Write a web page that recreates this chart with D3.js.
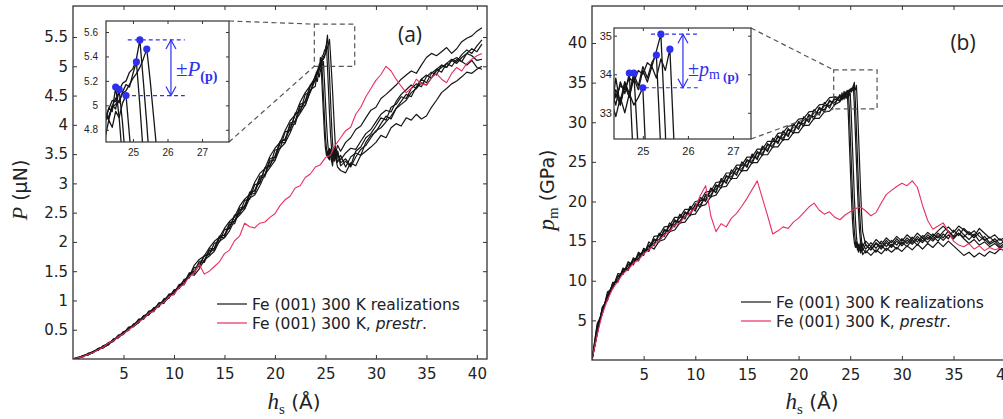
<!DOCTYPE html>
<html>
<head>
<meta charset="utf-8">
<script src="https://cdn.jsdelivr.net/npm/d3@7"></script>
<style>
  body { margin: 0; background: #fff; }
  svg { display: block; background: #fff; }
</style>
</head>
<body>
<svg id="fig" width="1003" height="419"></svg>
<script>
// Indentation depth grid (Å) shared by all MD realizations; finer around the pop-in.
const hs = [0,0.5,1,1.5,2,2.5,3,3.5,4,4.5,5,5.5,
  6,6.5,7,7.5,8,8.5,9,9.5,10,10.5,11,11.5,
  12,12.5,13,13.5,14,14.5,15,15.5,16,16.5,17,17.5,
  18,18.5,19,19.5,20,20.5,21,21.5,22,22.5,23,23.5,
  24,24.1,24.2,24.3,24.4,24.5,24.6,24.7,24.8,24.9,25,
  25.1,25.2,25.3,25.4,25.5,25.6,25.7,25.8,25.9,26,26.1,26.2,
  26.5,27,27.5,28,28.5,29,29.5,30,30.5,31,31.5,32,32.5,
  33,33.5,34,34.5,35,35.5,36,36.5,37,37.5,38,38.5,39,39.5,40,40.5];

// Depth grid of the prestrained run.
const hsPre = [0,0.5,1,1.5,2,2.5,3,3.5,4,4.5,5,5.5,
  6,6.5,7,7.5,8,8.5,9,9.5,10,10.5,11,11.5,
  12,12.5,13,13.5,14,14.5,15,15.5,16,16.5,17,17.5,
  18,18.5,19,19.5,20,20.5,21,21.5,22,22.5,23,23.5,
  24,24.5,25,25.5,26,26.5,27,27.5,28,28.5,29,29.5,
  30,30.5,31,31.5,32,32.5,33,33.5,34,34.5,35,35.5,
  36,36.5,37,37.5,38,38.5,39,39.5,40,40.5];

// (a) load P (µN), six realizations
const loadRun1 = [0,.03,.04,.10,.11,.18,.20,.28,.31,.41,.43,.54,
  .56,.68,.69,.82,.83,.96,.97,1.11,1.12,1.27,1.29,1.47,
  1.48,1.67,1.68,1.88,1.89,2.10,2.11,2.33,2.35,2.58,2.60,2.85,
  2.87,3.12,3.15,3.42,3.45,3.72,3.74,4.03,4.06,4.35,4.39,4.68,
  4.76,4.90,4.86,4.98,4.95,5.15,4.90,4.55,4.20,3.85,3.60,
  3.48,3.55,3.42,3.60,3.50,3.38,3.52,3.45,3.62,3.48,3.40,3.55,
  3.35,3.42,3.30,3.55,3.62,3.78,3.85,3.98,4.12,4.08,4.30,4.35,4.48,
  4.45,4.62,4.70,4.65,4.82,4.90,4.85,5.02,4.98,5.10,5.15,5.08,5.22,5.30,5.25,5.38];
const loadRun2 = [0,.01,.06,.07,.13,.15,.23,.24,.34,.36,.47,.49,
  .60,.62,.74,.75,.88,.89,1.03,1.04,1.18,1.20,1.36,1.38,
  1.56,1.58,1.77,1.78,1.98,2.00,2.21,2.23,2.46,2.48,2.71,2.73,
  2.98,3.00,3.27,3.29,3.57,3.59,3.88,3.90,4.20,4.22,4.52,4.56,
  4.85,4.80,4.92,4.88,5.00,4.97,5.13,4.85,4.50,4.15,3.80,
  3.60,3.45,3.52,3.40,3.58,3.46,3.35,3.50,3.44,3.58,3.42,3.36,
  3.48,3.28,3.45,3.52,3.48,3.70,3.82,3.88,4.02,4.15,4.10,4.28,4.40,
  4.52,4.48,4.65,4.78,4.72,4.88,4.95,4.90,5.05,5.12,5.08,5.20,5.28,5.22,5.35,5.45];
const loadRun3 = [0,.02,.04,.09,.11,.17,.19,.27,.30,.39,.42,.52,
  .55,.66,.68,.80,.81,.94,.95,1.09,1.10,1.25,1.27,1.44,
  1.46,1.64,1.65,1.85,1.86,2.07,2.08,2.30,2.31,2.55,2.57,2.81,
  2.83,3.09,3.11,3.38,3.40,3.69,3.70,4.00,4.01,4.31,4.33,4.60,
  4.66,4.80,4.74,4.88,4.82,4.95,4.90,5.02,5.08,4.75,4.40,
  4.05,3.75,3.55,3.45,3.58,3.40,3.30,3.46,3.38,3.52,3.36,3.28,
  3.22,3.18,3.35,3.30,3.48,3.55,3.62,3.70,3.82,3.78,3.95,4.02,3.98,
  4.12,4.08,4.18,4.10,4.15,4.30,4.42,4.55,4.62,4.70,4.75,4.82,4.90,4.88,4.95,5.00];
const loadRun4 = [0,.02,.06,.07,.12,.18,.19,.25,.34,.37,.44,.53,
  .57,.63,.74,.76,.84,.95,.97,1.05,1.17,1.21,1.30,1.45,
  1.50,1.60,1.76,1.80,1.90,2.08,2.12,2.25,2.44,2.50,2.62,2.82,
  2.88,3.03,3.25,3.31,3.46,3.70,3.76,3.93,4.17,4.24,4.41,4.66,
  4.76,4.86,4.93,4.90,4.99,5.06,5.02,5.11,5.17,5.15,5.26,
  5.355,5.00,4.60,4.20,3.85,3.60,3.48,3.58,3.42,3.55,3.38,3.50,
  3.40,3.52,3.60,3.58,3.72,3.85,3.92,4.05,4.18,4.25,4.22,4.40,4.52,
  4.60,4.68,4.62,4.78,4.85,4.80,4.95,5.02,4.98,5.10,5.05,5.15,5.22,5.18,5.10,5.12];
const loadRun5 = [0,.03,.04,.09,.13,.15,.22,.27,.30,.39,.46,.49,
  .59,.66,.69,.79,.87,.90,1.01,1.09,1.12,1.25,1.34,1.40,
  1.60,1.70,1.76,1.90,2.01,2.08,2.23,2.35,2.43,2.61,2.73,2.81,
  3.02,3.17,3.25,3.46,3.60,3.70,3.90,4.07,4.17,4.39,4.55,4.67,
  4.82,4.88,4.90,4.97,5.04,5.03,5.12,5.18,5.20,5.27,5.30,
  5.38,5.535,5.20,4.85,4.45,4.05,3.70,3.50,3.62,3.48,3.58,3.65,
  3.55,3.70,3.78,3.92,3.98,4.12,4.25,4.30,4.45,4.52,4.60,4.68,4.78,
  4.85,4.92,4.88,5.02,5.15,5.22,5.18,5.25,5.32,5.22,5.30,5.42,5.48,5.52,5.60,5.66];
const loadRun6 = [0,.01,.06,.08,.11,.18,.20,.24,.33,.38,.43,.54,
  .56,.62,.73,.78,.83,.94,.98,1.05,1.16,1.23,1.29,1.45,
  1.43,1.54,1.69,1.76,1.84,2.01,2.07,2.19,2.37,2.46,2.56,2.75,
  2.80,2.96,3.15,3.27,3.39,3.60,3.69,3.86,4.07,4.20,4.34,4.56,
  4.77,4.85,4.88,4.91,4.98,5.01,5.04,5.10,5.12,5.17,5.22,
  5.26,5.31,5.38,5.46,5.20,4.90,4.60,4.25,3.90,3.60,3.45,3.55,
  3.30,3.38,3.28,3.45,3.58,3.65,3.78,3.90,3.95,4.05,4.15,4.28,4.35,
  4.42,4.55,4.62,4.72,4.68,4.80,4.92,4.98,5.05,5.00,5.12,5.08,5.02,5.10,4.98,4.95];
// (a) load P (µN), prestrained sample
const loadPre = [0,.02,.04,.08,.11,.16,.20,.27,.31,.38,.43,.50,
  .56,.64,.69,.78,.82,.92,.97,1.06,1.11,1.22,1.28,1.40,
  1.48,1.62,1.45,1.50,1.58,1.66,1.80,1.86,2.02,2.10,2.32,2.26,
  2.24,2.32,2.34,2.42,2.48,2.62,2.72,2.78,2.92,2.96,3.10,3.16,
  3.28,3.32,3.44,3.48,3.66,3.78,3.90,3.96,4.18,4.30,4.48,4.62,
  4.76,4.86,5.00,4.92,4.78,4.66,4.55,4.62,4.78,4.70,4.68,4.80,
  4.88,4.78,4.72,4.88,4.98,4.92,5.05,5.12,5.18,5.22];

// (b) mean contact pressure p_m (GPa), six realizations
const presRun1 = [0,4.3,5.8,8.6,9.0,10.9,10.8,12.4,12.0,13.6,13.2,14.9,
  14.4,16.0,15.6,17.3,16.8,18.4,17.8,19.4,18.8,20.5,20.0,21.7,
  21.1,22.9,22.3,24.0,23.3,25.0,24.3,26.0,25.3,27.0,26.3,28.0,
  27.3,28.9,28.2,29.8,29.1,30.7,30.0,31.6,30.9,32.5,31.8,33.2,
  32.6,33.4,32.9,33.6,33.2,33.8,33.5,34.03,31.5,28.0,24.5,
  21.0,18.0,16.0,14.8,14.2,14.9,13.9,14.6,14.1,15.0,14.3,13.8,
  14.6,13.9,14.8,14.2,15.1,14.4,15.3,14.6,15.4,14.8,15.6,15.0,15.8,
  15.2,16.0,15.4,16.3,15.6,16.5,15.8,15.2,15.9,15.0,15.6,14.8,15.3,14.6,15.1,14.5];
const presRun2 = [0,3.2,6.7,7.5,9.8,9.8,11.6,11.3,12.9,12.5,14.1,13.7,
  15.3,14.9,16.5,16.1,17.7,17.2,18.7,18.2,19.7,19.3,20.9,20.5,
  22.1,21.7,23.3,22.8,24.3,23.8,25.3,24.8,26.3,25.8,27.3,26.8,
  28.3,27.7,29.2,28.6,30.1,29.5,31.0,30.4,31.9,31.3,32.8,32.2,
  33.5,32.8,33.7,33.0,33.9,33.2,33.8,33.4,34.03,32.0,28.5,
  25.0,21.5,18.5,16.2,14.9,14.2,14.8,13.8,14.5,13.9,14.7,14.1,
  13.5,14.3,13.6,14.5,13.8,14.6,14.0,14.9,14.3,15.2,14.5,15.4,14.8,
  15.6,15.0,15.9,15.3,16.4,15.7,16.6,16.0,15.4,16.1,15.2,14.6,15.0,14.3,14.8,14.2];
const presRun3 = [0,3.6,6.0,8.3,9.1,10.5,11.0,12.0,12.2,13.2,13.4,14.4,
  14.0,15.0,15.2,16.2,16.4,17.3,17.4,18.3,18.4,19.4,19.6,20.6,
  20.8,21.8,21.9,22.9,22.9,23.9,23.9,24.9,24.9,25.9,25.9,26.9,
  26.9,27.8,27.8,28.7,28.7,29.6,29.6,30.5,30.5,31.3,31.4,32.2,
  32.6,33.1,32.8,33.3,32.9,33.4,33.0,33.5,33.2,33.4,33.65,
  31.0,27.5,24.0,20.5,17.8,15.6,14.3,13.6,14.2,13.5,14.0,13.3,
  13.8,13.2,13.9,13.4,14.1,13.6,14.2,13.7,14.4,13.9,14.6,14.0,14.7,
  14.2,14.9,14.3,15.0,14.4,13.8,13.2,13.6,13.0,13.5,13.1,13.7,13.4,14.0,13.8,14.3];
const presRun4 = [0,4.0,6.4,7.8,9.6,10.1,11.4,11.6,12.7,12.8,13.9,14.0,
  15.1,15.2,16.3,16.4,17.5,17.5,18.5,18.5,19.5,19.6,20.7,20.8,
  21.9,22.0,23.1,23.1,24.1,24.1,25.1,25.1,26.1,26.1,27.1,27.1,
  28.1,28.0,29.0,28.9,29.9,29.8,30.8,30.7,31.7,31.6,32.6,32.5,
  33.2,32.9,33.4,33.1,33.6,33.3,33.8,33.5,34.0,33.7,34.2,
  33.9,34.3,34.5,32.0,28.5,25.0,21.5,18.6,16.3,14.9,14.1,14.6,
  14.0,14.8,14.1,15.0,14.3,15.1,14.5,15.3,14.7,15.5,14.9,15.7,15.2,
  15.9,15.4,16.2,16.8,16.1,16.9,16.4,15.8,16.3,15.6,15.1,15.5,14.9,15.3,14.7,15.0];
const presRun5 = [0,4.6,5.9,8.2,9.5,10.0,11.3,11.5,12.6,12.7,13.8,13.9,
  15.6,15.7,16.8,16.9,18.0,18.0,19.0,19.0,20.0,20.1,21.2,21.3,
  22.4,22.5,23.6,23.6,24.6,24.6,25.6,25.6,26.6,26.6,27.6,27.6,
  28.6,28.7,29.5,29.6,30.4,30.5,31.3,31.4,32.2,32.3,33.1,33.2,
  33.1,33.3,33.2,33.5,33.4,33.7,33.6,33.9,33.8,34.1,34.0,
  34.3,34.2,34.6,35.04,32.5,29.0,25.5,22.0,19.0,16.6,15.0,14.4,
  15.0,14.3,15.2,14.6,15.4,14.8,15.6,15.0,15.8,15.2,16.0,15.4,16.1,
  15.6,16.3,16.9,16.2,15.5,16.0,15.3,14.7,15.2,14.5,14.9,14.3,14.7,14.1,14.5,13.9];
const presRun6 = [0,3.4,6.5,7.9,9.2,10.6,10.9,12.1,12.3,13.3,13.5,14.5,
  14.7,15.7,15.9,16.9,17.1,18.0,18.1,19.0,19.1,20.1,20.3,21.3,
  21.5,22.5,22.6,23.6,23.6,24.6,24.6,25.6,25.6,26.6,26.6,27.6,
  27.6,28.5,28.5,29.4,29.4,30.3,30.3,31.2,31.2,32.1,32.1,32.9,
  32.8,33.0,33.3,33.0,33.5,33.2,33.7,33.4,33.9,33.6,34.1,
  33.8,34.2,33.9,34.4,34.1,34.65,32.0,28.5,25.0,21.5,18.5,16.2,
  14.5,13.9,14.7,14.0,14.8,14.2,15.0,14.4,15.1,14.6,15.3,14.8,15.5,
  15.0,15.7,15.1,15.8,15.3,16.0,15.5,16.2,15.6,16.6,16.0,15.4,15.8,15.1,15.5,14.9];
// (b) mean contact pressure p_m (GPa), prestrained sample
const presPre = [0,3.2,5.8,7.6,9.0,9.9,10.9,11.4,12.2,12.6,13.4,13.9,
  14.6,15.0,15.8,16.2,17.0,17.3,18.1,18.5,19.3,20.8,22.0,18.2,
  16.2,17.2,16.8,17.9,18.5,19.4,20.4,21.5,22.6,20.4,18.2,15.9,
  16.3,16.8,16.6,17.4,17.9,18.6,19.3,19.8,18.9,18.4,18.7,18.0,
  17.7,18.3,18.7,19.1,19.3,18.8,18.2,18.6,19.8,20.9,21.4,21.9,
  22.3,22.0,22.6,21.8,19.5,17.6,16.5,16.9,17.3,16.2,15.0,14.5,
  14.3,14.7,14.0,14.4,13.8,14.2,13.9,14.1,13.7,13.9];

// Tick values and labels
const depthTicks = [5, 10, 15, 20, 25, 30, 35, 40];
const loadTicks = [0.5, 1, 1.5, 2, 2.5, 3, 3.5, 4, 4.5, 5, 5.5];
const presTicks = [5, 10, 15, 20, 25, 30, 35, 40];
const insetDepthTicks = [25, 26, 27];
const insetLoadTicks = [4.8, 5, 5.2, 5.4, 5.6];
const insetPresTicks = [33, 34, 35];
const legendLabels = ['Fe (001) 300 K realizations', 'Fe (001) 300 K, '];

const svg = d3.select('#fig');
const SANS = '"DejaVu Sans", sans-serif';
const SERIF = '"Liberation Serif", "Times New Roman", serif';
const INK = '#161616';
const RED = '#e8305f';
const BLUE = '#2f2ff0';

function styleAxis(sel, size, family) {
  sel.select('.domain').remove();
  sel.selectAll('.tick line').attr('stroke', '#333').attr('stroke-width', 1);
  sel.selectAll('.tick text').attr('fill', '#222').attr('font-size', size).attr('font-family', family);
}

function drawPanel(p) {
  const x = d3.scaleLinear().domain([0, 41]).range([p.left, p.right]);
  const y = d3.scaleLinear().domain([0, p.yMax]).range([p.bottom, p.top]);
  const g = svg.append('g');

  svg.append('clipPath').attr('id', 'clip-' + p.id).append('rect')
    .attr('x', p.left).attr('y', p.top)
    .attr('width', p.right - p.left).attr('height', p.bottom - p.top);
  const plot = g.append('g').attr('clip-path', `url(#clip-${p.id})`);

  const runLine = d3.line().x((d, i) => x(hs[i])).y(d => y(d));
  p.runs.forEach(r => plot.append('path').attr('d', runLine(r))
    .attr('fill', 'none').attr('stroke', INK).attr('stroke-width', 1.2).attr('stroke-linejoin', 'round'));
  const preLine = d3.line().x((d, i) => x(hsPre[i])).y(d => y(d));
  plot.append('path').attr('d', preLine(p.pre))
    .attr('fill', 'none').attr('stroke', RED).attr('stroke-width', 1.1).attr('stroke-linejoin', 'round');

  // axes with inward ticks on all four sides
  g.append('g').attr('transform', `translate(0,${p.bottom})`)
    .call(d3.axisBottom(x).tickValues(depthTicks).tickSizeInner(-4).tickSizeOuter(0).tickPadding(9).tickFormat(d => String(d)))
    .call(s => styleAxis(s, 15, SANS));
  g.append('g').attr('transform', `translate(0,${p.top})`)
    .call(d3.axisTop(x).tickValues(depthTicks).tickSizeInner(-4).tickSizeOuter(0).tickFormat(''))
    .call(s => styleAxis(s, 15, SANS));
  g.append('g').attr('transform', `translate(${p.left},0)`)
    .call(d3.axisLeft(y).tickValues(p.yTicks).tickSizeInner(-4).tickSizeOuter(0).tickPadding(p.yPad).tickFormat(d => String(d)))
    .call(s => styleAxis(s, 15, SANS));
  g.append('g').attr('transform', `translate(${p.right},0)`)
    .call(d3.axisRight(y).tickValues(p.yTicks).tickSizeInner(-4).tickSizeOuter(0).tickFormat(''))
    .call(s => styleAxis(s, 15, SANS));

  g.append('rect').attr('x', p.left).attr('y', p.top)
    .attr('width', p.right - p.left).attr('height', p.bottom - p.top)
    .attr('fill', 'none').attr('stroke', '#333').attr('stroke-width', 1.3);

  // zoom window and leader lines to the inset
  const zr = p.zoomBox;
  const dash = { stroke: '#555', 'stroke-width': 1.2, 'stroke-dasharray': '5,3.5', fill: 'none' };
  const zx0 = x(zr.x[0]), zx1 = x(zr.x[1]), zy0 = y(zr.y[1]), zy1 = y(zr.y[0]);
  const zrect = g.append('rect').attr('x', zx0).attr('y', zy0).attr('width', zx1 - zx0).attr('height', zy1 - zy0);
  Object.entries(dash).forEach(([k, v]) => zrect.attr(k, v));
  [[p.inset.box.x1, p.inset.box.y0, zx0, zy0], [p.inset.box.x1, p.inset.box.y1, zx0, zy1]].forEach(c => {
    const l = g.append('line').attr('x1', c[0]).attr('y1', c[1]).attr('x2', c[2]).attr('y2', c[3]);
    Object.entries(dash).forEach(([k, v]) => l.attr(k, v));
  });

  // legend
  const lg = g.append('g');
  [[INK, legendLabels[0]], [RED, legendLabels[1]]].forEach((e, i) => {
    const ly = p.legend.y + i * 19;
    lg.append('line').attr('x1', p.legend.x).attr('x2', p.legend.x + 30).attr('y1', ly).attr('y2', ly)
      .attr('stroke', e[0]).attr('stroke-width', 1.2);
    const t = lg.append('text').attr('x', p.legend.x + 35).attr('y', ly + 5.5)
      .attr('font-family', SANS).attr('font-size', 15.5).attr('fill', '#222');
    t.append('tspan').text(e[1]);
    if (i === 1) {
      t.append('tspan').attr('font-style', 'italic').text('prestr');
      t.append('tspan').text('.');
    }
  });

  // panel tag
  g.append('text').attr('x', p.tag.x).attr('y', p.tag.y).attr('text-anchor', 'middle')
    .attr('font-family', '"Open Sans", sans-serif').attr('font-size', 21).attr('fill', '#222').text(p.tag.text);

  drawInset(p);
}

function drawInset(p) {
  const c = p.inset, b = c.box;
  const xi = d3.scaleLinear().domain(c.xDom).range([b.x0, b.x1]);
  const yi = d3.scaleLinear().domain(c.yDom).range([b.y1, b.y0]);
  const g = svg.append('g');
  g.append('rect').attr('x', b.x0).attr('y', b.y0).attr('width', b.x1 - b.x0).attr('height', b.y1 - b.y0).attr('fill', '#fff');
  svg.append('clipPath').attr('id', 'iclip-' + p.id).append('rect')
    .attr('x', b.x0).attr('y', b.y0).attr('width', b.x1 - b.x0).attr('height', b.y1 - b.y0);
  const plot = g.append('g').attr('clip-path', `url(#iclip-${p.id})`);
  const ln = d3.line().x((d, i) => xi(hs[i])).y(d => yi(d));
  p.runs.forEach(r => plot.append('path').attr('d', ln(r))
    .attr('fill', 'none').attr('stroke', INK).attr('stroke-width', 1.3).attr('stroke-linejoin', 'round'));

  g.append('g').attr('transform', `translate(0,${b.y1})`)
    .call(d3.axisBottom(xi).tickValues(insetDepthTicks).tickSizeInner(-3).tickSizeOuter(0).tickPadding(c.xPad).tickFormat(d => String(d)))
    .call(s => styleAxis(s, c.font, '"Liberation Sans", Arial, sans-serif'));
  g.append('g').attr('transform', `translate(0,${b.y0})`)
    .call(d3.axisTop(xi).tickValues(insetDepthTicks).tickSizeInner(-3).tickSizeOuter(0).tickFormat(''))
    .call(s => styleAxis(s, c.font, SANS));
  g.append('g').attr('transform', `translate(${b.x0},0)`)
    .call(d3.axisLeft(yi).tickValues(c.yTicks).tickSizeInner(-3).tickSizeOuter(0).tickPadding(c.yPad).tickFormat(d => String(d)))
    .call(s => styleAxis(s, c.font, '"Liberation Sans", Arial, sans-serif'));
  g.append('g').attr('transform', `translate(${b.x1},0)`)
    .call(d3.axisRight(yi).tickValues(c.yTicks).tickSizeInner(-3).tickSizeOuter(0).tickFormat(''))
    .call(s => styleAxis(s, c.font, SANS));
  g.append('rect').attr('x', b.x0).attr('y', b.y0).attr('width', b.x1 - b.x0).attr('height', b.y1 - b.y0)
    .attr('fill', 'none').attr('stroke', '#333').attr('stroke-width', 1.2);

  // maximum of each realization before the pop-in
  const peaks = p.runs.map(r => {
    let bi = 0;
    r.forEach((v, i) => { if (hs[i] <= 26.2 && v > r[bi]) bi = i; });
    return { x: hs[bi], y: r[bi] };
  });
  const hi = d3.max(peaks, d => d.y), lo = d3.min(peaks, d => d.y);
  const a = c.range;
  [[a.topFrom, hi], [a.botFrom, lo]].forEach(e => {
    g.append('line').attr('x1', xi(e[0])).attr('x2', xi(a.to)).attr('y1', yi(e[1])).attr('y2', yi(e[1]))
      .attr('stroke', BLUE).attr('stroke-width', 1.2).attr('stroke-dasharray', '4,3');
  });
  const ax = xi(a.arrowAt), yt = yi(hi), yb = yi(lo);
  g.append('line').attr('x1', ax).attr('x2', ax).attr('y1', yt).attr('y2', yb).attr('stroke', BLUE).attr('stroke-width', 1.2);
  g.append('path').attr('d', `M${ax - 5},${yt + 9}L${ax},${yt}L${ax + 5},${yt + 9}M${ax - 5},${yb - 9}L${ax},${yb}L${ax + 5},${yb - 9}`)
    .attr('fill', 'none').attr('stroke', BLUE).attr('stroke-width', 1.2);
  g.selectAll('circle.pk').data(peaks).join('circle').attr('class', 'pk')
    .attr('cx', d => xi(d.x)).attr('cy', d => yi(d.y)).attr('r', 3.6).attr('fill', BLUE);

  const t = g.append('text').attr('x', ax + 5).attr('y', (yt + yb) / 2 + c.labelDy).attr('fill', BLUE);
  c.label(t);
}

drawPanel({
  id: 'a', left: 73, right: 487, top: 6, bottom: 359, yMax: 6.03, yTicks: loadTicks, yPad: 5,
  runs: [loadRun1, loadRun2, loadRun3, loadRun4, loadRun5, loadRun6], pre: loadPre,
  zoomBox: { x: [23.9, 27.9], y: [5.0, 5.72] },
  legend: { x: 217, y: 304 },
  tag: { x: 410, y: 42, text: '(a)' },
  inset: {
    box: { x0: 106, x1: 229, y0: 21, y1: 142 },
    xDom: [24.22, 27.78], yDom: [4.70, 5.69], yTicks: insetLoadTicks,
    font: 10, xPad: 7, yPad: 8, labelDy: 8,
    range: { topFrom: 24.85, botFrom: 24.77, to: 26.5, arrowAt: 26.1 },
    label: t => {
      t.append('tspan').attr('font-family', SERIF).attr('font-size', 21).text('±');
      t.append('tspan').attr('font-family', SERIF).attr('font-style', 'italic').attr('font-size', 21).text('P');
      t.append('tspan').attr('font-family', SERIF).attr('font-size', 14).attr('font-weight', 'bold').attr('dy', 5).text('(p)');
    }
  }
});

drawPanel({
  id: 'b', left: 592, right: 1015.5, top: 6, bottom: 360, yMax: 44.67, yTicks: presTicks, yPad: 5,
  runs: [presRun1, presRun2, presRun3, presRun4, presRun5, presRun6], pre: presPre,
  zoomBox: { x: [23.4, 27.6], y: [31.7, 36.6] },
  legend: { x: 741, y: 302 },
  tag: { x: 963, y: 50, text: '(b)' },
  inset: {
    box: { x0: 614, x1: 751, y0: 28, y1: 139 },
    xDom: [24.36, 27.4], yDom: [32.32, 35.2], yTicks: insetPresTicks,
    font: 11, xPad: 8, yPad: 2, labelDy: 15,
    range: { topFrom: 25.18, botFrom: 24.89, to: 26.22, arrowAt: 25.89 },
    label: t => {
      t.append('tspan').attr('font-family', SERIF).attr('font-size', 20).text('±');
      t.append('tspan').attr('font-family', SERIF).attr('font-style', 'italic').attr('font-size', 20).text('p');
      t.append('tspan').attr('font-family', SERIF).attr('font-size', 14).attr('dy', 3).text('m');
      t.append('tspan').attr('font-family', SERIF).attr('font-size', 13).attr('font-weight', 'bold').attr('dy', 2).text(' (p)');
    }
  }
});

// axis titles
function xTitle(cx) {
  const t = svg.append('text').attr('x', cx).attr('y', 409).attr('text-anchor', 'middle').attr('fill', '#222');
  t.append('tspan').attr('font-family', SERIF).attr('font-style', 'italic').attr('font-size', 23).text('h');
  t.append('tspan').attr('font-family', SERIF).attr('font-size', 15).attr('dy', 5).text('s');
  t.append('tspan').attr('font-family', SANS).attr('font-size', 20).attr('dy', -5).text(' (Å)');
}
xTitle(294);
xTitle(812);

const ya = svg.append('text').attr('transform', 'translate(27,190) rotate(-90)').attr('text-anchor', 'middle').attr('fill', '#222');
ya.append('tspan').attr('font-family', SERIF).attr('font-style', 'italic').attr('font-size', 22).text('P');
ya.append('tspan').attr('font-family', SANS).attr('font-size', 19).text(' (μN)');

const yb = svg.append('text').attr('transform', 'translate(554,190) rotate(-90)').attr('text-anchor', 'middle').attr('fill', '#222');
yb.append('tspan').attr('font-family', SERIF).attr('font-style', 'italic').attr('font-size', 23).text('p');
yb.append('tspan').attr('font-family', SERIF).attr('font-size', 15).attr('dy', 4).text('m');
yb.append('tspan').attr('font-family', SANS).attr('font-size', 19).attr('dy', -4).text(' (GPa)');
</script>
</body>
</html>
